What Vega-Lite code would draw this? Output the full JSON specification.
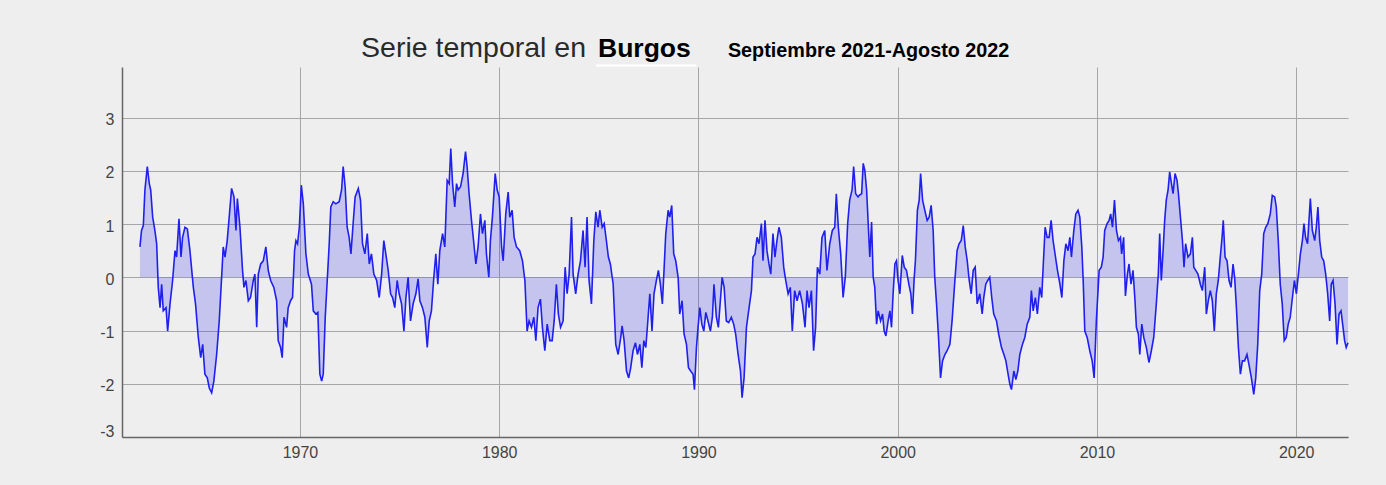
{
"$schema": "https://vega.github.io/schema/vega-lite/v6.json",
"width": 1226, "height": 370,
"autosize": {"type": "none"},
"padding": {"left": 122, "top": 67, "right": 38, "bottom": 48},
"background": "#eeeeee",
"config": {"view": {"stroke": null}, "font": "Liberation Sans"},
"datasets": {"s": [
{"t":1961.97,"v":0.57},{"t":1962.05,"v":0.88},{"t":1962.14,"v":0.97},{"t":1962.22,"v":1.64},{"t":1962.34,"v":2.08},{"t":1962.44,"v":1.76},{"t":1962.51,"v":1.64},{"t":1962.61,"v":1.13},{"t":1962.72,"v":0.88},{"t":1962.81,"v":0.63},{"t":1962.89,"v":-0.19},{"t":1962.98,"v":-0.57},{"t":1963.06,"v":-0.13},{"t":1963.14,"v":-0.63},{"t":1963.28,"v":-0.57},{"t":1963.36,"v":-1.01},{"t":1963.48,"v":-0.5},{"t":1963.61,"v":-0.06},{"t":1963.73,"v":0.5},{"t":1963.81,"v":0.38},{"t":1963.93,"v":1.1},{"t":1964.03,"v":0.38},{"t":1964.11,"v":0.75},{"t":1964.23,"v":0.94},{"t":1964.35,"v":0.91},{"t":1964.48,"v":0.5},{"t":1964.65,"v":-0.19},{"t":1964.76,"v":-0.5},{"t":1964.9,"v":-1.13},{"t":1965.02,"v":-1.51},{"t":1965.12,"v":-1.26},{"t":1965.23,"v":-1.82},{"t":1965.35,"v":-1.89},{"t":1965.45,"v":-2.08},{"t":1965.57,"v":-2.17},{"t":1965.68,"v":-1.95},{"t":1965.82,"v":-1.45},{"t":1965.95,"v":-0.82},{"t":1966.07,"v":0.0},{"t":1966.15,"v":0.57},{"t":1966.24,"v":0.38},{"t":1966.35,"v":0.69},{"t":1966.45,"v":1.13},{"t":1966.57,"v":1.67},{"t":1966.69,"v":1.51},{"t":1966.79,"v":0.88},{"t":1966.86,"v":1.48},{"t":1966.99,"v":0.94},{"t":1967.12,"v":0.13},{"t":1967.19,"v":-0.19},{"t":1967.29,"v":-0.06},{"t":1967.41,"v":-0.44},{"t":1967.52,"v":-0.38},{"t":1967.66,"v":-0.06},{"t":1967.74,"v":0.06},{"t":1967.83,"v":-0.94},{"t":1967.91,"v":0.06},{"t":1968.03,"v":0.25},{"t":1968.16,"v":0.31},{"t":1968.29,"v":0.57},{"t":1968.41,"v":0.13},{"t":1968.53,"v":-0.06},{"t":1968.69,"v":-0.19},{"t":1968.83,"v":-0.44},{"t":1968.91,"v":-1.19},{"t":1969.03,"v":-1.32},{"t":1969.11,"v":-1.51},{"t":1969.2,"v":-0.75},{"t":1969.33,"v":-0.94},{"t":1969.41,"v":-0.57},{"t":1969.53,"v":-0.44},{"t":1969.63,"v":-0.38},{"t":1969.73,"v":0.5},{"t":1969.8,"v":0.69},{"t":1969.88,"v":0.63},{"t":1969.97,"v":0.94},{"t":1970.07,"v":1.73},{"t":1970.17,"v":1.38},{"t":1970.3,"v":0.44},{"t":1970.42,"v":0.06},{"t":1970.58,"v":-0.13},{"t":1970.67,"v":-0.63},{"t":1970.8,"v":-0.69},{"t":1970.9,"v":-0.66},{"t":1971.0,"v":-1.82},{"t":1971.09,"v":-1.95},{"t":1971.17,"v":-1.82},{"t":1971.27,"v":-0.75},{"t":1971.37,"v":-0.06},{"t":1971.47,"v":0.63},{"t":1971.55,"v":1.32},{"t":1971.67,"v":1.42},{"t":1971.8,"v":1.38},{"t":1971.97,"v":1.42},{"t":1972.09,"v":1.64},{"t":1972.17,"v":2.08},{"t":1972.27,"v":1.7},{"t":1972.37,"v":0.94},{"t":1972.47,"v":0.75},{"t":1972.56,"v":0.44},{"t":1972.67,"v":1.01},{"t":1972.77,"v":1.51},{"t":1972.93,"v":1.67},{"t":1973.04,"v":1.45},{"t":1973.14,"v":0.63},{"t":1973.26,"v":0.44},{"t":1973.38,"v":0.82},{"t":1973.48,"v":0.25},{"t":1973.59,"v":0.44},{"t":1973.71,"v":0.06},{"t":1973.85,"v":-0.06},
{"t":1973.98,"v":-0.38},{"t":1974.1,"v":0.06},{"t":1974.21,"v":0.69},{"t":1974.31,"v":0.44},{"t":1974.43,"v":0.13},{"t":1974.55,"v":-0.31},{"t":1974.65,"v":-0.38},{"t":1974.76,"v":-0.57},{"t":1974.88,"v":-0.06},{"t":1974.98,"v":-0.31},{"t":1975.1,"v":-0.5},{"t":1975.22,"v":-1.01},{"t":1975.32,"v":-0.38},{"t":1975.43,"v":0.0},{"t":1975.55,"v":-0.82},{"t":1975.68,"v":-0.5},{"t":1975.82,"v":-0.31},{"t":1975.93,"v":-0.03},{"t":1976.02,"v":-0.44},{"t":1976.15,"v":-0.57},{"t":1976.27,"v":-0.75},{"t":1976.39,"v":-1.32},{"t":1976.49,"v":-0.82},{"t":1976.6,"v":-0.63},{"t":1976.72,"v":0.0},{"t":1976.82,"v":0.44},{"t":1976.92,"v":-0.13},{"t":1977.02,"v":0.5},{"t":1977.16,"v":0.82},{"t":1977.27,"v":0.57},{"t":1977.39,"v":1.82},{"t":1977.49,"v":1.76},{"t":1977.57,"v":2.42},{"t":1977.66,"v":1.76},{"t":1977.77,"v":1.32},{"t":1977.86,"v":1.76},{"t":1977.94,"v":1.64},{"t":1978.06,"v":1.7},{"t":1978.19,"v":1.95},{"t":1978.31,"v":2.36},{"t":1978.39,"v":2.08},{"t":1978.49,"v":1.57},{"t":1978.61,"v":1.07},{"t":1978.73,"v":0.63},{"t":1978.83,"v":0.25},{"t":1978.94,"v":0.57},{"t":1979.06,"v":1.19},{"t":1979.16,"v":0.82},{"t":1979.28,"v":1.07},{"t":1979.36,"v":0.44},{"t":1979.48,"v":0.0},{"t":1979.56,"v":0.69},{"t":1979.66,"v":1.13},{"t":1979.8,"v":1.95},{"t":1979.9,"v":1.64},{"t":1980.0,"v":1.51},{"t":1980.12,"v":0.57},{"t":1980.2,"v":0.31},{"t":1980.33,"v":1.19},{"t":1980.45,"v":1.6},{"t":1980.53,"v":1.13},{"t":1980.65,"v":1.26},{"t":1980.75,"v":0.75},{"t":1980.87,"v":0.57},{"t":1981.03,"v":0.5},{"t":1981.17,"v":0.31},{"t":1981.29,"v":-0.06},{"t":1981.4,"v":-1.01},{"t":1981.5,"v":-0.82},{"t":1981.62,"v":-0.94},{"t":1981.74,"v":-0.75},{"t":1981.84,"v":-1.19},{"t":1981.95,"v":-0.57},{"t":1982.07,"v":-0.41},{"t":1982.17,"v":-0.94},{"t":1982.29,"v":-1.38},{"t":1982.41,"v":-0.88},{"t":1982.54,"v":-1.19},{"t":1982.66,"v":-1.19},{"t":1982.76,"v":-0.82},{"t":1982.87,"v":-0.13},{"t":1982.97,"v":-0.69},{"t":1983.08,"v":-0.94},{"t":1983.21,"v":-0.82},{"t":1983.31,"v":0.19},{"t":1983.41,"v":-0.31},{"t":1983.51,"v":0.06},{"t":1983.63,"v":1.13},{"t":1983.71,"v":0.06},{"t":1983.84,"v":-0.31},{"t":1983.96,"v":0.06},{"t":1984.08,"v":0.31},{"t":1984.21,"v":0.88},{"t":1984.31,"v":0.19},{"t":1984.41,"v":1.13},{"t":1984.51,"v":-0.06},{"t":1984.63,"v":-0.5},{"t":1984.75,"v":0.69},{"t":1984.85,"v":1.23},{"t":1984.96,"v":0.94},{"t":1985.05,"v":1.26},{"t":1985.17,"v":0.94},{"t":1985.27,"v":1.01},{"t":1985.38,"v":0.69},{"t":1985.48,"v":0.38},{"t":1985.58,"v":0.25},{"t":1985.72,"v":-0.13},{"t":1985.85,"v":-1.26},{"t":1985.97,"v":-1.45},
{"t":1986.1,"v":-1.13},{"t":1986.17,"v":-0.91},{"t":1986.27,"v":-1.19},{"t":1986.39,"v":-1.76},{"t":1986.5,"v":-1.89},{"t":1986.6,"v":-1.7},{"t":1986.72,"v":-1.38},{"t":1986.84,"v":-1.23},{"t":1986.94,"v":-1.45},{"t":1987.06,"v":-1.26},{"t":1987.16,"v":-1.7},{"t":1987.26,"v":-1.19},{"t":1987.36,"v":-1.32},{"t":1987.46,"v":-0.82},{"t":1987.56,"v":-0.31},{"t":1987.67,"v":-1.01},{"t":1987.77,"v":-0.31},{"t":1987.89,"v":-0.06},{"t":1987.99,"v":0.13},{"t":1988.09,"v":-0.13},{"t":1988.19,"v":-0.5},{"t":1988.28,"v":0.19},{"t":1988.36,"v":0.82},{"t":1988.48,"v":1.26},{"t":1988.56,"v":1.13},{"t":1988.66,"v":1.35},{"t":1988.76,"v":0.44},{"t":1988.86,"v":0.31},{"t":1988.98,"v":0.0},{"t":1989.06,"v":-0.69},{"t":1989.18,"v":-0.44},{"t":1989.28,"v":-1.07},{"t":1989.4,"v":-1.26},{"t":1989.5,"v":-1.7},{"t":1989.61,"v":-1.76},{"t":1989.73,"v":-1.82},{"t":1989.8,"v":-2.11},{"t":1989.9,"v":-1.32},{"t":1989.98,"v":-0.94},{"t":1990.07,"v":-0.57},{"t":1990.17,"v":-0.88},{"t":1990.27,"v":-1.01},{"t":1990.37,"v":-0.66},{"t":1990.48,"v":-0.82},{"t":1990.6,"v":-1.01},{"t":1990.7,"v":-0.75},{"t":1990.78,"v":-0.13},{"t":1990.9,"v":-0.75},{"t":1991.0,"v":-0.94},{"t":1991.1,"v":-0.44},{"t":1991.19,"v":0.0},{"t":1991.29,"v":-0.19},{"t":1991.4,"v":-0.82},{"t":1991.52,"v":-0.85},{"t":1991.65,"v":-0.75},{"t":1991.77,"v":-0.88},{"t":1991.87,"v":-1.07},{"t":1991.99,"v":-1.45},{"t":1992.11,"v":-1.76},{"t":1992.19,"v":-2.26},{"t":1992.29,"v":-1.89},{"t":1992.41,"v":-0.94},{"t":1992.52,"v":-0.63},{"t":1992.66,"v":-0.25},{"t":1992.74,"v":0.38},{"t":1992.84,"v":0.44},{"t":1992.94,"v":0.75},{"t":1993.04,"v":0.63},{"t":1993.16,"v":1.01},{"t":1993.24,"v":0.31},{"t":1993.34,"v":1.07},{"t":1993.44,"v":0.5},{"t":1993.54,"v":0.25},{"t":1993.63,"v":0.06},{"t":1993.74,"v":0.82},{"t":1993.84,"v":0.38},{"t":1993.94,"v":0.69},{"t":1994.04,"v":0.94},{"t":1994.16,"v":0.75},{"t":1994.28,"v":0.19},{"t":1994.38,"v":-0.06},{"t":1994.5,"v":-0.31},{"t":1994.61,"v":-0.19},{"t":1994.71,"v":-1.01},{"t":1994.83,"v":-0.25},{"t":1994.95,"v":-0.44},{"t":1995.08,"v":-0.25},{"t":1995.22,"v":-0.5},{"t":1995.35,"v":-0.94},{"t":1995.45,"v":-0.25},{"t":1995.55,"v":-0.57},{"t":1995.67,"v":-0.25},{"t":1995.78,"v":-1.38},{"t":1995.88,"v":-0.94},{"t":1995.97,"v":0.19},{"t":1996.09,"v":0.06},{"t":1996.2,"v":0.75},{"t":1996.34,"v":0.88},{"t":1996.45,"v":0.13},{"t":1996.59,"v":0.63},{"t":1996.72,"v":0.88},{"t":1996.84,"v":0.94},{"t":1996.92,"v":1.57},{"t":1997.02,"v":0.94},{"t":1997.14,"v":0.44},{"t":1997.26,"v":-0.38},{"t":1997.37,"v":0.0},{"t":1997.49,"v":1.01},{"t":1997.59,"v":1.45},{"t":1997.71,"v":1.64},{"t":1997.79,"v":2.08},{"t":1997.89,"v":1.57},{"t":1998.01,"v":1.51},
{"t":1998.07,"v":1.54},{"t":1998.19,"v":1.57},{"t":1998.27,"v":2.14},{"t":1998.35,"v":2.01},{"t":1998.44,"v":1.64},{"t":1998.52,"v":1.01},{"t":1998.6,"v":0.38},{"t":1998.69,"v":1.04},{"t":1998.77,"v":0.0},{"t":1998.85,"v":-0.19},{"t":1998.94,"v":-0.88},{"t":1999.02,"v":-0.63},{"t":1999.14,"v":-0.82},{"t":1999.24,"v":-0.69},{"t":1999.32,"v":-1.01},{"t":1999.41,"v":-1.1},{"t":1999.52,"v":-0.82},{"t":1999.61,"v":-0.63},{"t":1999.69,"v":-0.94},{"t":1999.77,"v":-0.31},{"t":1999.86,"v":0.25},{"t":1999.94,"v":0.31},{"t":2000.02,"v":-0.06},{"t":2000.11,"v":-0.31},{"t":2000.23,"v":0.41},{"t":2000.33,"v":0.19},{"t":2000.44,"v":0.13},{"t":2000.56,"v":-0.13},{"t":2000.66,"v":-0.31},{"t":2000.74,"v":-0.69},{"t":2000.83,"v":0.0},{"t":2000.89,"v":0.31},{"t":2000.99,"v":1.26},{"t":2001.08,"v":1.45},{"t":2001.15,"v":1.95},{"t":2001.25,"v":1.45},{"t":2001.36,"v":1.26},{"t":2001.48,"v":1.07},{"t":2001.58,"v":1.13},{"t":2001.68,"v":1.35},{"t":2001.78,"v":0.88},{"t":2001.86,"v":0.0},{"t":2001.95,"v":-0.5},{"t":2002.05,"v":-1.13},{"t":2002.15,"v":-1.89},{"t":2002.25,"v":-1.57},{"t":2002.37,"v":-1.45},{"t":2002.48,"v":-1.38},{"t":2002.62,"v":-1.26},{"t":2002.73,"v":-0.82},{"t":2002.87,"v":-0.06},{"t":2002.98,"v":0.5},{"t":2003.08,"v":0.63},{"t":2003.19,"v":0.69},{"t":2003.29,"v":0.97},{"t":2003.39,"v":0.57},{"t":2003.49,"v":0.31},{"t":2003.59,"v":-0.06},{"t":2003.69,"v":-0.31},{"t":2003.79,"v":0.13},{"t":2003.89,"v":0.19},{"t":2003.99,"v":-0.5},{"t":2004.12,"v":-0.31},{"t":2004.24,"v":-0.69},{"t":2004.32,"v":-0.38},{"t":2004.42,"v":-0.13},{"t":2004.52,"v":-0.06},{"t":2004.62,"v":0.0},{"t":2004.72,"v":-0.38},{"t":2004.82,"v":-0.69},{"t":2004.96,"v":-0.82},{"t":2005.07,"v":-1.07},{"t":2005.21,"v":-1.32},{"t":2005.33,"v":-1.45},{"t":2005.43,"v":-1.57},{"t":2005.54,"v":-1.82},{"t":2005.63,"v":-2.01},{"t":2005.71,"v":-2.11},{"t":2005.83,"v":-1.76},{"t":2005.93,"v":-1.92},{"t":2006.03,"v":-1.76},{"t":2006.13,"v":-1.45},{"t":2006.26,"v":-1.26},{"t":2006.38,"v":-1.13},{"t":2006.5,"v":-0.88},{"t":2006.63,"v":-0.75},{"t":2006.71,"v":-0.25},{"t":2006.8,"v":-0.63},{"t":2006.91,"v":-0.38},{"t":2007.01,"v":-0.69},{"t":2007.13,"v":-0.19},{"t":2007.23,"v":-0.38},{"t":2007.3,"v":0.19},{"t":2007.4,"v":0.94},{"t":2007.5,"v":0.75},{"t":2007.6,"v":0.75},{"t":2007.7,"v":1.07},{"t":2007.8,"v":0.69},{"t":2007.92,"v":0.38},{"t":2008.02,"v":0.13},{"t":2008.14,"v":-0.13},{"t":2008.24,"v":-0.38},{"t":2008.34,"v":0.31},{"t":2008.44,"v":0.63},{"t":2008.55,"v":0.5},{"t":2008.64,"v":0.75},{"t":2008.72,"v":0.38},{"t":2008.84,"v":0.88},{"t":2008.94,"v":1.19},{"t":2009.05,"v":1.26},{"t":2009.14,"v":1.13},{"t":2009.24,"v":0.57},{"t":2009.31,"v":-0.06},{"t":2009.39,"v":-1.01},{"t":2009.51,"v":-1.13},{"t":2009.64,"v":-1.38},{"t":2009.76,"v":-1.57},{"t":2009.86,"v":-1.89},{"t":2009.97,"v":-0.82},{"t":2010.11,"v":0.13},
{"t":2010.22,"v":0.19},{"t":2010.31,"v":0.38},{"t":2010.39,"v":0.88},{"t":2010.51,"v":1.01},{"t":2010.61,"v":1.07},{"t":2010.69,"v":1.19},{"t":2010.78,"v":0.94},{"t":2010.88,"v":1.45},{"t":2010.98,"v":0.88},{"t":2011.08,"v":0.69},{"t":2011.18,"v":0.75},{"t":2011.24,"v":0.44},{"t":2011.34,"v":0.75},{"t":2011.43,"v":-0.35},{"t":2011.53,"v":0.06},{"t":2011.61,"v":0.25},{"t":2011.71,"v":-0.13},{"t":2011.81,"v":0.13},{"t":2011.91,"v":-0.44},{"t":2011.98,"v":-0.94},{"t":2012.08,"v":-1.07},{"t":2012.15,"v":-1.45},{"t":2012.25,"v":-0.88},{"t":2012.35,"v":-1.13},{"t":2012.48,"v":-1.32},{"t":2012.61,"v":-1.6},{"t":2012.73,"v":-1.38},{"t":2012.85,"v":-1.13},{"t":2012.98,"v":-0.5},{"t":2013.08,"v":0.06},{"t":2013.15,"v":0.82},{"t":2013.23,"v":-0.06},{"t":2013.32,"v":0.5},{"t":2013.4,"v":1.07},{"t":2013.48,"v":1.45},{"t":2013.57,"v":1.64},{"t":2013.65,"v":1.98},{"t":2013.74,"v":1.76},{"t":2013.82,"v":1.57},{"t":2013.92,"v":1.95},{"t":2014.02,"v":1.82},{"t":2014.09,"v":1.57},{"t":2014.19,"v":1.13},{"t":2014.29,"v":0.69},{"t":2014.37,"v":0.19},{"t":2014.45,"v":0.63},{"t":2014.57,"v":0.38},{"t":2014.69,"v":0.44},{"t":2014.79,"v":0.75},{"t":2014.86,"v":0.19},{"t":2014.96,"v":0.13},{"t":2015.07,"v":0.06},{"t":2015.19,"v":-0.13},{"t":2015.29,"v":-0.25},{"t":2015.41,"v":0.19},{"t":2015.49,"v":-0.69},{"t":2015.59,"v":-0.44},{"t":2015.69,"v":-0.25},{"t":2015.79,"v":-0.44},{"t":2015.89,"v":-1.01},{"t":2015.99,"v":-0.31},{"t":2016.09,"v":-0.06},{"t":2016.19,"v":0.38},{"t":2016.28,"v":0.75},{"t":2016.34,"v":1.07},{"t":2016.43,"v":0.38},{"t":2016.53,"v":0.31},{"t":2016.63,"v":-0.06},{"t":2016.73,"v":-0.19},{"t":2016.83,"v":0.25},{"t":2016.91,"v":0.0},{"t":2017.0,"v":-0.57},{"t":2017.1,"v":-1.32},{"t":2017.2,"v":-1.82},{"t":2017.3,"v":-1.57},{"t":2017.41,"v":-1.57},{"t":2017.53,"v":-1.45},{"t":2017.63,"v":-1.64},{"t":2017.75,"v":-1.89},{"t":2017.87,"v":-2.2},{"t":2017.97,"v":-1.89},{"t":2018.07,"v":-1.26},{"t":2018.17,"v":-0.25},{"t":2018.27,"v":0.06},{"t":2018.37,"v":0.82},{"t":2018.47,"v":0.94},{"t":2018.58,"v":1.01},{"t":2018.7,"v":1.19},{"t":2018.8,"v":1.54},{"t":2018.92,"v":1.51},{"t":2019.0,"v":1.32},{"t":2019.1,"v":0.69},{"t":2019.2,"v":-0.13},{"t":2019.3,"v":-0.5},{"t":2019.4,"v":-1.19},{"t":2019.5,"v":-1.13},{"t":2019.6,"v":-0.88},{"t":2019.7,"v":-0.75},{"t":2019.81,"v":-0.38},{"t":2019.91,"v":-0.06},{"t":2020.01,"v":-0.31},{"t":2020.11,"v":0.06},{"t":2020.21,"v":0.44},{"t":2020.31,"v":0.69},{"t":2020.39,"v":1.01},{"t":2020.47,"v":0.75},{"t":2020.57,"v":0.63},{"t":2020.71,"v":1.48},{"t":2020.81,"v":0.88},{"t":2020.93,"v":0.69},{"t":2021.01,"v":0.94},{"t":2021.09,"v":1.32},{"t":2021.18,"v":0.69},{"t":2021.28,"v":0.38},{"t":2021.38,"v":0.31},{"t":2021.48,"v":0.06},{"t":2021.58,"v":-0.31},{"t":2021.68,"v":-0.82},{"t":2021.76,"v":-0.13},{"t":2021.85,"v":-0.06},{"t":2021.95,"v":-0.5},{"t":2022.05,"v":-1.26},{"t":2022.15,"v":-0.69},{"t":2022.25,"v":-0.63},{"t":2022.35,"v":-0.94},{"t":2022.43,"v":-1.19},{"t":2022.51,"v":-1.32},{"t":2022.6,"v":-1.23}
]},
"layer": [
{"data": {"name": "s"},
 "mark": {"type": "area", "color": "#2020ee", "opacity": 0.2},
 "encoding": {
  "x": {"field": "t", "type": "quantitative", "scale": {"domain": [1961.07, 2022.6], "nice": false, "zero": false},
   "axis": {"title": null, "values": [1970, 1980, 1990, 2000, 2010, 2020], "format": "d", "grid": true, "gridColor": "#a6a6a6", "gridWidth": 1, "ticks": false, "labelPadding": 7, "labelFontSize": 16, "labelColor": "#444444", "labelFont": "Liberation Sans", "domainColor": "#666666", "domainWidth": 1.5}},
  "y": {"field": "v", "type": "quantitative", "scale": {"domain": [-3, 3.95], "nice": false, "zero": false},
   "axis": {"title": null, "values": [-3, -2, -1, 0, 1, 2, 3], "labelExpr": "datum.value < 0 ? '-' + abs(datum.value) : '' + datum.value", "grid": true, "gridColor": "#a6a6a6", "gridWidth": 1, "ticks": false, "labelPadding": 8, "labelOffset": 2, "labelFlush": true, "labelFontSize": 16, "labelColor": "#444444", "labelFont": "Liberation Sans", "domainColor": "#666666", "domainWidth": 1.5}},
  "y2": {"datum": 0}
 }},
{"data": {"name": "s"},
 "mark": {"type": "line", "color": "#2020ee", "strokeWidth": 1.6},
 "encoding": {"x": {"field": "t", "type": "quantitative"}, "y": {"field": "v", "type": "quantitative"}}},
{"data": {"values": [{"label": "Serie temporal en"}]},
 "mark": {"type": "text", "align": "right", "baseline": "alphabetic", "fontSize": 28.5, "color": "#2a2a2a", "font": "Liberation Sans"},
 "encoding": {"x": {"datum": 1984.36}, "y": {"datum": 4.14}, "text": {"field": "label"}}},
{"data": {"values": [{"label": "Burgos"}]},
 "mark": {"type": "text", "align": "left", "baseline": "alphabetic", "fontSize": 26.5, "fontWeight": "bold", "color": "#000000", "font": "Liberation Sans"},
 "encoding": {"x": {"datum": 1984.96}, "y": {"datum": 4.14}, "text": {"field": "label"}}},
{"data": {"values": [{"label": "Burgos"}]},
 "mark": {"type": "rule", "color": "#ffffff", "strokeWidth": 2},
 "encoding": {"x": {"datum": 1984.86}, "x2": {"datum": 1989.9}, "y": {"datum": 3.98}}},
{"data": {"values": [{"label": "Septiembre 2021-Agosto 2022"}]},
 "mark": {"type": "text", "align": "left", "baseline": "alphabetic", "fontSize": 19.8, "fontWeight": "bold", "color": "#000000", "font": "Liberation Sans"},
 "encoding": {"x": {"datum": 1991.48}, "y": {"datum": 4.14}, "text": {"field": "label"}}}
]
}
